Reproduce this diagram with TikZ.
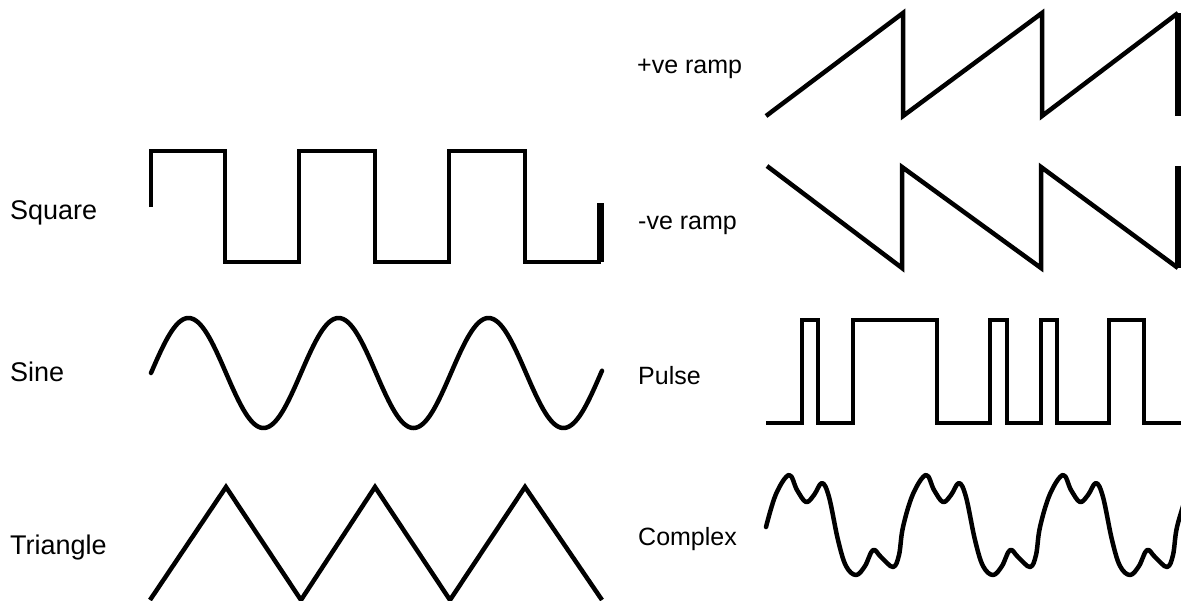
\documentclass[tikz,border=0pt]{standalone}
\usepackage{fontspec}
\setmainfont{Liberation Sans}
\begin{document}
\begin{tikzpicture}[x=1pt,y=-1pt,
  wave/.style={line width=4.5pt, line join=miter, black},
  edge/.style={line width=6pt, black},
  lbl/.style={anchor=base west, inner sep=0pt, font=\fontsize{25}{30}\selectfont},
  lblbig/.style={lbl, font=\fontsize{27}{32}\selectfont}]
\useasboundingbox (0,0) rectangle (1181,600);
\clip (0,0) rectangle (1181,600);

% labels, left column
\node[lblbig] (lsquare)   at (10,219) {Square};
\node[lblbig] (lsine)     at (10,381) {Sine};
\node[lblbig] (ltriangle) at (10,554) {Triangle};
% labels, right column
\node[lbl] (lpramp)   at (637,73)  {+ve ramp};
\node[lbl] (lnramp)   at (638,229) {-ve ramp};
\node[lbl] (lpulse)   at (638,384) {Pulse};
\node[lbl] (lcomplex) at (638,545) {Complex};

% square wave
\draw[wave] (151,207) -- (151,151) -- (225,151) -- (225,262) -- (299,262)
  -- (299,151) -- (375,151) -- (375,262) -- (449,262) -- (449,151)
  -- (525,151) -- (525,262) -- (599,262) -- (599,203);
\draw[edge] (601,262) -- (601,203);

% sine wave
\draw[wave, line cap=round] plot[domain=151:602, samples=240]
  (\x, {373-55*sin((\x-151)*2.4)});

% triangle wave
\draw[wave] (150,600) -- (226,487) -- (301,600) -- (375,487) -- (450,600)
  -- (525,487) -- (602,600);

% positive ramp
\draw[wave] (766,116) -- (903,13) -- (903,116) -- (1042,13) -- (1042,116)
  -- (1178,13);
\draw[edge] (1178,13) -- (1178,116);

% negative ramp
\draw[wave] (767,166) -- (902,268) -- (902,167) -- (1041,268) -- (1041,167)
  -- (1178,268);
\draw[edge] (1178,166) -- (1178,268);

% pulse train
\draw[wave] (766,423) -- (802,423) -- (802,320) -- (818,320) -- (818,423)
  -- (853,423) -- (853,320) -- (937,320) -- (937,423) -- (990,423)
  -- (990,320) -- (1007,320) -- (1007,423) -- (1041,423) -- (1041,320)
  -- (1057,320) -- (1057,423) -- (1109,423) -- (1109,320) -- (1144,320)
  -- (1144,423) -- (1185,423);

% complex wave
\draw[wave, line join=round, line cap=round] plot[smooth, tension=0.6] coordinates {
  (766,527) (776,494) (789,475) (797,490) (806,502) (814,495) (822,483)
  (829,497) (838,540) (846,566) (856,575) (865,566) (873,550) (881,557)
  (893,567) (899,555)
  (903,527) (913,494) (926,475) (934,490) (943,502) (951,495) (959,483)
  (966,497) (975,540) (983,566) (993,575) (1002,566) (1010,550) (1018,557)
  (1030,567) (1036,555)
  (1040,527) (1050,494) (1063,475) (1071,490) (1080,502) (1088,495) (1096,483)
  (1103,497) (1112,540) (1120,566) (1130,575) (1139,566) (1147,550) (1155,557)
  (1167,567) (1173,555)
  (1177,527) (1187,494)};
\end{tikzpicture}
\end{document}
